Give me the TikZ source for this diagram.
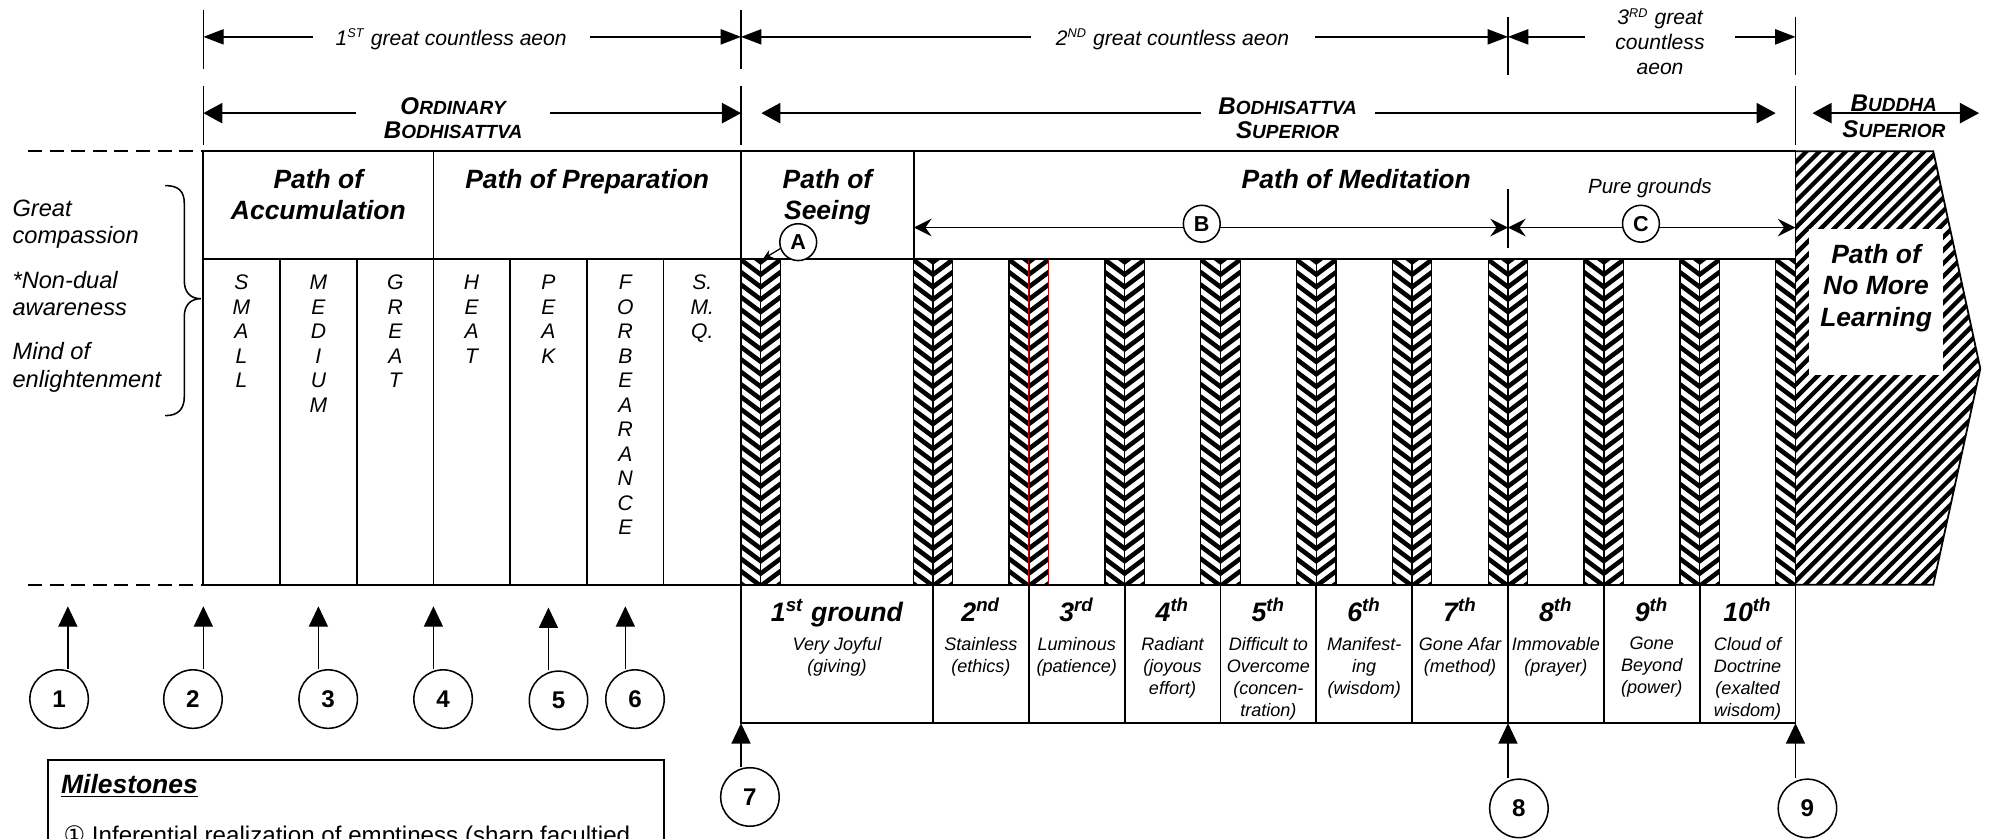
\documentclass[tikz,border=0pt]{standalone}
\usepackage{fontspec}
\setmainfont{Liberation Sans}
\newfontfamily\djv{DejaVu Sans}
\usetikzlibrary{arrows.meta}
\newcommand\fsz[2]{\fontsize{#1}{#2}\selectfont}
\newcommand\smallc[1]{{\fontsize{7.5}{9.5}\selectfont #1}}
\newcommand\chevcol[3]{%
  \begin{scope}
    \clip (#2,204) rectangle (#3,460);
    \foreach \kk in {-3,...,27}{
      \draw[line width=1.8pt] (#1-16,204+\kk*9.8) -- (#1,216+\kk*9.8) -- (#1+16,204+\kk*9.8);
    }
  \end{scope}
  \draw[line width=0.5pt] (#2,204) rectangle (#3,460);
  \draw[line width=0.6pt] (#1,204) -- (#1,460);
}
\begin{document}
\begin{tikzpicture}[x=0.5pt,y=-0.5pt,
  tbl/.style={line width=0.7pt},
  arr/.style={line width=0.5pt},
  headA/.style={{Triangle[length=8pt,width=6pt]}-{Triangle[length=8pt,width=6pt]}},
  headB/.style={{Triangle[length=7.5pt,width=8pt]}-{Triangle[length=7.5pt,width=8pt]}},
  headC/.style={{Stealth[length=7pt,width=7pt,inset=2.5pt]}-{Stealth[length=7pt,width=7pt,inset=2.5pt]}},
  upT/.style={-{Triangle[length=8pt,width=7.5pt]}},
  hdr/.style={font=\fsz{10.4}{12.5}\bfseries\itshape, align=center, inner sep=0pt, anchor=north},
  vlet/.style={font=\fsz{8.3}{9.65}\itshape, align=center, inner sep=0pt, anchor=north},
  sidetxt/.style={font=\fsz{9.3}{10.75}\itshape, align=left, inner sep=0pt, anchor=north west},
  gh/.style={font=\fsz{10.5}{12}\bfseries\itshape, inner sep=0pt, anchor=base},
  gd/.style={font=\fsz{7.1}{8.65}\itshape, align=center, inner sep=0pt, anchor=north},
  aeon/.style={font=\fsz{8.3}{9.85}\itshape, align=center, fill=white, inner ysep=1pt, inner xsep=9pt},
  ranktxt/.style={font=\fsz{9.5}{9.5}\bfseries\itshape, align=center, inner ysep=1pt},
  numc/.style={circle, draw, line width=0.6pt, minimum size=23pt, inner sep=0pt, font=\fsz{9.5}{10}\bfseries, fill=white},
  letc/.style={circle, draw, line width=0.6pt, minimum size=14.5pt, inner sep=0pt, font=\fsz{8.5}{9}\bfseries, fill=white}
]
\useasboundingbox (0,0) rectangle (1568,660);
\clip (0,0) rectangle (1568,660);

% ---------- hatched columns ----------
\chevcol{598.5}{583}{614}
\foreach \cx in {734,809.4,884.8,960.2,1035.6,1111,1186.4,1261.8,1337.2}{\chevcol{\cx}{\cx-15.5}{\cx+15.5}}
\chevcol{1412.6}{1397.1}{1412.6}
\draw[red!75!black, line width=0.5pt] (809.4,204) rectangle (825,460);

% ---------- Path of No More Learning ----------
\begin{scope}
  \clip (1412.6,119) -- (1521,119) -- (1558,290) -- (1521,460) -- (1412.6,460) -- cycle;
  \foreach \kk in {0,...,52}{\draw[line width=1.7pt] (1060+\kk*10.3,470) -- ++(360,-360);}
\end{scope}
\draw[tbl] (1412.6,119) -- (1521,119) -- (1558,290) -- (1521,460) -- (1412.6,460);
\node[fill=white, minimum width=53pt, minimum height=57.5pt, inner sep=0pt] (nmlbox) at (1476,237.5) {};
\node[hdr] (nml) at (1476,191.5) {Path of\\No More\\Learning};

% ---------- main table ----------
\draw[tbl] (160,119) rectangle (1412.6,460);
\draw[tbl] (160,204) -- (1412.6,204);
\draw[tbl] (341,119) -- (341,460);
\draw[tbl] (583,119) -- (583,460);
\draw[tbl] (719,119) -- (719,204);
\foreach \xx in {220,281,401,462,522}{\draw[tbl] (\xx,204) -- (\xx,460);}
\draw[tbl, dash pattern=on 5.5pt off 3pt] (22,119) -- (160,119);
\draw[tbl, dash pattern=on 5.5pt off 3pt] (22,460) -- (160,460);

% bottom grounds table
\draw[tbl] (583,460) rectangle (1412.6,569);
\foreach \xx in {734,809.4,884.8,960.2,1035.6,1111,1186.4,1261.8,1337.2}{\draw[tbl] (\xx,460) -- (\xx,569);}

% ---------- headers ----------
\node[hdr] (pacc) at (250.5,132.5) {Path of\\Accumulation};
\node[hdr] (pprep) at (462,132.5) {Path of Preparation};
\node[hdr] (psee) at (651,132.5) {Path of\\Seeing};
\node[hdr] (pmed) at (1067,132.5) {Path of Meditation};
\node[font=\fsz{8.1}{9}\itshape, inner sep=0pt] (pg) at (1298,148) {Pure grounds};

% B and C spans
\coordinate (bL) at (719,179);
\coordinate (bR) at (1186.4,179);
\coordinate (cR) at (1412.6,179);
\draw[arr, headC] (bL) -- (bR);
\draw[arr, headC] (bR) -- (cR);
\draw[arr] (1186.4,149) -- (1186.4,195);
\node[letc] (B) at (945.5,176) {B};
\node[letc] (C) at (1291,176) {C};
\node[letc] (A) at (628,190.5) {A};
\coordinate (Atip) at (600,204);
\draw[arr, -{Stealth[length=4pt,width=3.5pt]}] (A.200) -- (Atip);

% vertical letters
\node[vlet] (vsmall) at (190,216) {S\\M\\A\\L\\L};
\node[vlet] (vmed) at (250.5,216) {M\\E\\D\\I\\U\\M};
\node[vlet] (vgreat) at (311,216) {G\\R\\E\\A\\T};
\node[vlet] (vheat) at (371,216) {H\\E\\A\\T};
\node[vlet] (vpeak) at (431.5,216) {P\\E\\A\\K};
\node[vlet] (vforb) at (492,216) {F\\O\\R\\B\\E\\A\\R\\A\\N\\C\\E};
\node[vlet] (vsmq) at (552.5,216) {S.\\M.\\Q.};

% left side
\node[sidetxt] (gc) at (9.5,157) {Great\\compassion};
\node[sidetxt] (nd) at (9.5,212.8) {*Non-dual\\awareness};
\node[sidetxt] (me) at (9.5,269.3) {Mind of\\enlightenment};
\draw[line width=0.6pt] (130,146) .. controls (140,146) and (145,150) .. (145,160) -- (145,221)
  .. controls (145,230) and (150,235) .. (158,235)
  .. controls (150,235) and (145,240) .. (145,249) -- (145,312)
  .. controls (145,322) and (140,327) .. (130,327);

% ---------- top rows ----------
\foreach \xx in {160,583}{\draw[arr] (\xx,8) -- (\xx,54);}
\foreach \xx in {1186.4,1412.6}{\draw[arr] (\xx,13) -- (\xx,59);}
\foreach \xx in {160,583,1412.6}{\draw[arr] (\xx,68) -- (\xx,114);}
\coordinate (a1L) at (160,29);
\coordinate (a1R) at (583,29);
\coordinate (a2R) at (1186.4,29);
\coordinate (a3R) at (1412.6,29);
\draw[arr, headA] (a1L) -- (a1R);
\draw[arr, headA] (a1R) -- (a2R);
\draw[arr, headA] (a2R) -- (a3R);
\node[aeon, anchor=base] (ae1) at (355,35.5) {1\textsuperscript{\fsz{5}{6}ST} great countless aeon};
\node[aeon, anchor=base, inner xsep=10pt] (ae2) at (922.5,35.5) {2\textsuperscript{\fsz{5}{6}ND} great countless aeon};
\node[aeon, anchor=north, inner xsep=12pt] (ae3) at (1306,4.5) {3\textsuperscript{\fsz{5}{6}RD} great\\countless\\aeon};

\coordinate (o1) at (160,89);
\coordinate (o2) at (583,89);
\coordinate (s1) at (599,89);
\coordinate (s2) at (1397,89);
\coordinate (u1) at (1426,89);
\coordinate (u2) at (1557,89);
\draw[arr, headB] (o1) -- (o2);
\draw[arr, headB] (s1) -- (s2);
\draw[arr, headB] (u1) -- (u2);
\node[ranktxt, fill=white, inner xsep=11pt] (ordb) at (356.5,93) {O\smallc{RDINARY}\\B\smallc{ODHISATTVA}};
\node[ranktxt, fill=white, inner xsep=7pt] (supb) at (1013,93) {B\smallc{ODHISATTVA}\\S\smallc{UPERIOR}};
\node[ranktxt] (budb) at (1490,91.5) {B\smallc{UDDHA}\\[1pt]S\smallc{UPERIOR}};

% ---------- grounds ----------
\node[gh] (g1) at (658.5,489) {1\textsuperscript{st} ground};
\node[gh] (g2) at (771.7,489) {2\textsuperscript{nd}};
\node[gh] (g3) at (847.1,489) {3\textsuperscript{rd}};
\node[gh] (g4) at (922.5,489) {4\textsuperscript{th}};
\node[gh] (g5) at (997.9,489) {5\textsuperscript{th}};
\node[gh] (g6) at (1073.3,489) {6\textsuperscript{th}};
\node[gh] (g7) at (1148.7,489) {7\textsuperscript{th}};
\node[gh] (g8) at (1224.1,489) {8\textsuperscript{th}};
\node[gh] (g9) at (1299.5,489) {9\textsuperscript{th}};
\node[gh] (g10) at (1374.9,489) {10\textsuperscript{th}};
\node[gd] (d1) at (658.5,501) {Very Joyful\\(giving)};
\node[gd] (d2) at (771.7,501) {Stainless\\(ethics)};
\node[gd] (d3) at (847.1,501) {Luminous\\(patience)};
\node[gd] (d4) at (922.5,501) {Radiant\\(joyous\\effort)};
\node[gd] (d5) at (997.9,501) {Difficult to\\Overcome\\(concen-\\tration)};
\node[gd] (d6) at (1073.3,501) {Manifest-\\ing\\(wisdom)};
\node[gd] (d7) at (1148.7,501) {Gone Afar\\(method)};
\node[gd] (d8) at (1224.1,501) {Immovable\\(prayer)};
\node[gd] (d9) at (1299.5,501) {Gone\\Beyond\\(power)};
\node[gd] (d10) at (1374.9,501) {Cloud of\\Doctrine\\(exalted\\wisdom)};

% ---------- milestone markers ----------
\node[numc] (c1) at (46.5,550) {1};
\node[numc] (c2) at (151.8,550) {2};
\node[numc] (c3) at (258.2,550) {3};
\node[numc] (c4) at (348.6,550) {4};
\node[numc] (c5) at (439.4,551) {5};
\node[numc] (c6) at (499.6,550) {6};
\node[numc] (c7) at (590,627) {7};
\node[numc] (c8) at (1195,636) {8};
\node[numc] (c9) at (1422,636) {9};
\coordinate (t1) at (53.4,477);
\coordinate (t2) at (160,477);
\coordinate (t3) at (250.5,477);
\coordinate (t4) at (341,477);
\coordinate (t5) at (431.5,478);
\coordinate (t6) at (492,477);
\coordinate (t7) at (583,569);
\coordinate (t8) at (1186.4,569);
\coordinate (t9) at (1412.6,569);
\foreach \i in {1,...,9}{\draw[arr, upT] (t\i |- c\i.north) -- (t\i);}

% ---------- milestones box ----------
\draw[tbl] (38,598) rectangle (522.6,720);
\node[font=\fsz{10.4}{12}\bfseries\itshape, anchor=base west, inner sep=0pt] (mst) at (47.7,624) {\underline{Milestones}};
\node[font=\fsz{9.5}{11}, anchor=base west, inner sep=0pt] (ms1) at (49.6,664) {{\djv ①} Inferential realization of emptiness (sharp facultied};
\end{tikzpicture}
\end{document}
